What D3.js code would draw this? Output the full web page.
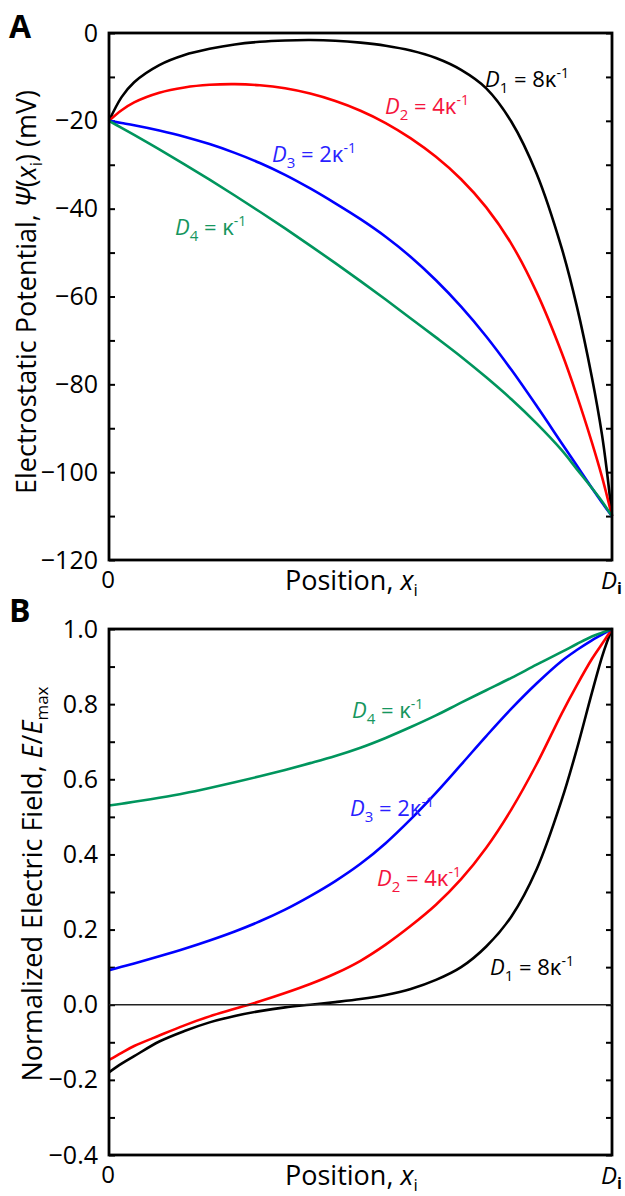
<!DOCTYPE html>
<html>
<head>
<meta charset="utf-8">
<script src="https://cdn.jsdelivr.net/npm/d3@7/dist/d3.min.js"></script>
<style>
body { margin: 0; background: #fff; }
svg text { font-family: "Open Sans", sans-serif; }
</style>
</head>
<body>
<svg width="625" height="1196"></svg>
<script>
// position across the gap, as fraction of D_i
var positions = [0, 0.025, 0.05, 0.1, 0.15, 0.2, 0.25, 0.3, 0.35, 0.4, 0.45, 0.5, 0.55, 0.6, 0.65, 0.7, 0.75, 0.8, 0.85, 0.9, 0.93, 0.96, 0.98, 0.99, 1];

// panel A: potential (mV)
var psiD1 = [-20, -14.6, -11.2, -7.3, -5.0, -3.6, -2.6, -2.0, -1.7, -1.6, -1.75, -2.2, -2.9, -4.0, -5.7, -8.4, -12.6, -20.2, -32.0, -49.0, -62.2, -78.4, -91.4, -99.9, -110];
var psiD2 = [-20, -17.6, -15.8, -13.6, -12.4, -11.8, -11.65, -11.9, -12.6, -13.8, -15.5, -17.7, -20.5, -24.0, -28.2, -33.3, -39.7, -48.0, -59.0, -72.8, -82.5, -93.2, -101.0, -105.4, -110];
var psiD3 = [-20, -20.5, -21.0, -22.2, -23.6, -25.3, -27.3, -29.6, -32.3, -35.4, -38.8, -42.4, -46.4, -51.0, -56.3, -62.3, -69.1, -76.7, -84.9, -93.4, -98.5, -103.6, -106.9, -108.5, -110];
var psiD4 = [-20, -21.6, -23.2, -26.5, -29.9, -33.4, -37.0, -40.7, -44.5, -48.4, -52.4, -56.5, -60.7, -65.0, -69.3, -73.7, -78.4, -83.4, -88.9, -95.0, -99.3, -103.6, -106.6, -108.3, -110];

// panel B: normalized field E/Emax
var fieldD1 = [-0.18, -0.157, -0.137, -0.098, -0.07, -0.047, -0.03, -0.017, -0.007, 0.0, 0.007, 0.015, 0.026, 0.042, 0.066, 0.1, 0.155, 0.235, 0.36, 0.545, 0.68, 0.83, 0.925, 0.965, 1.0];
var fieldD2 = [-0.147, -0.128, -0.11, -0.082, -0.055, -0.031, -0.011, 0.009, 0.031, 0.055, 0.083, 0.117, 0.16, 0.21, 0.266, 0.334, 0.418, 0.52, 0.64, 0.775, 0.85, 0.92, 0.96, 0.98, 1.0];
var fieldD3 = [0.092, 0.101, 0.11, 0.129, 0.149, 0.171, 0.195, 0.222, 0.253, 0.289, 0.329, 0.375, 0.43, 0.494, 0.564, 0.639, 0.715, 0.788, 0.855, 0.915, 0.944, 0.97, 0.985, 0.993, 1.0];
var fieldD4 = [0.53, 0.535, 0.54, 0.551, 0.563, 0.577, 0.592, 0.608, 0.625, 0.643, 0.662, 0.684, 0.71, 0.739, 0.77, 0.804, 0.837, 0.87, 0.905, 0.939, 0.96, 0.98, 0.99, 0.995, 1.0];

var psiTicks = [0, -10, -20, -30, -40, -50, -60, -70, -80, -90, -100, -110, -120];
var fieldTicks = [1.0, 0.9, 0.8, 0.7, 0.6, 0.5, 0.4, 0.3, 0.2, 0.1, 0.0, -0.1, -0.2, -0.3, -0.4];

var colors = ["#000000", "#ff0000", "#0000ff", "#00955d"];
var labelColors = ["#000000", "#f5143c", "#2a1fff", "#16965e"];
var coefs = ["8", "4", "2", ""];

var svg = d3.select("svg");

var x = d3.scaleLinear().domain([0, 1]).range([109, 612]);
var yA = d3.scaleLinear().domain([-120, 0]).range([560, 33]);
var yB = d3.scaleLinear().domain([-0.4, 1.0]).range([1155, 629]);

function drawPanel(y, ticks, fmt, series, top, bottom) {
  var g = svg.append("g");

  // left axis: ticks point inward, every other one labelled
  g.append("g")
    .attr("transform", "translate(109,0)")
    .call(d3.axisLeft(y).tickValues(ticks).tickSizeInner(-6).tickSizeOuter(0).tickPadding(11)
      .tickFormat(function(d, i) { return i % 2 == 0 ? fmt(d) : ""; }))
    .call(function(a) {
      a.select(".domain").remove();
      a.selectAll("line").attr("stroke", "#000").attr("stroke-width", 2);
      a.selectAll("text").style("font-size", "25px").attr("fill", "#000")
        .style("font-family", "'Open Sans', sans-serif");
    });

  // right axis, inward ticks only
  g.append("g")
    .attr("transform", "translate(612,0)")
    .call(d3.axisRight(y).tickValues(ticks).tickSizeInner(-6).tickSizeOuter(0).tickFormat(""))
    .call(function(a) {
      a.select(".domain").remove();
      a.selectAll("line").attr("stroke", "#000").attr("stroke-width", 2);
    });

  var line = d3.line()
    .x(function(d, i) { return x(positions[i]); })
    .y(function(d) { return y(d); })
    .curve(d3.curveCatmullRom.alpha(0.5));

  g.selectAll(".curve")
    .data(series)
    .enter().append("path")
    .attr("class", "curve")
    .attr("fill", "none")
    .attr("stroke", function(d, i) { return colors[i]; })
    .attr("stroke-width", 2.6)
    .attr("d", function(d) { return line(d); });

  // frame
  g.append("rect")
    .attr("x", 109).attr("y", top)
    .attr("width", 612 - 109).attr("height", bottom - top)
    .attr("fill", "none").attr("stroke", "#000").attr("stroke-width", 2.8);

  // x end labels
  g.append("text").attr("x", 108).attr("y", bottom + 28)
    .attr("text-anchor", "middle").style("font-size", "24px").text("0");
  var di = g.append("text").attr("x", 601).attr("y", bottom + 29).style("font-size", "24px");
  di.append("tspan").style("font-style", "italic").text("D");
  di.append("tspan").attr("dy", 5).style("font-size", "16px").style("font-weight", "bold").text("i");

  var pos = g.append("text").attr("x", 285).attr("y", bottom + 30).style("font-size", "27px");
  pos.append("tspan").text("Position, ");
  pos.append("tspan").style("font-style", "italic").text("x");
  pos.append("tspan").attr("dy", 6).style("font-size", "17px").text("i");

  return g;
}

function seriesLabel(g, px, py, i) {
  var t = g.append("text").attr("x", px).attr("y", py)
    .attr("fill", labelColors[i]).style("font-size", "22px");
  t.append("tspan").style("font-style", "italic").text("D");
  t.append("tspan").attr("dy", 6).style("font-size", "15px").text(i + 1);
  t.append("tspan").attr("dy", -6).text(" = " + coefs[i] + "\u03ba");
  t.append("tspan").attr("dy", -9).style("font-size", "14px").text("-1");
}

var gA = drawPanel(yA, psiTicks, d3.format("d"), [psiD1, psiD2, psiD3, psiD4], 33, 560);
var gB = drawPanel(yB, fieldTicks, d3.format(".1f"), [fieldD1, fieldD2, fieldD3, fieldD4], 629, 1155);

// zero line in panel B
gB.append("line")
  .attr("x1", x(0)).attr("x2", x(1))
  .attr("y1", yB(0)).attr("y2", yB(0))
  .attr("stroke", "#222").attr("stroke-width", 1.5);

seriesLabel(gA, 485, 87, 0);
seriesLabel(gA, 385, 114, 1);
seriesLabel(gA, 272, 162, 2);
seriesLabel(gA, 175, 235, 3);

seriesLabel(gB, 490, 975, 0);
seriesLabel(gB, 377, 886, 1);
seriesLabel(gB, 350, 816, 2);
seriesLabel(gB, 352, 718, 3);

// y titles
var tA = svg.append("text").attr("transform", "translate(36,292) rotate(-90)")
  .attr("text-anchor", "middle").style("font-size", "27px");
tA.append("tspan").text("Electrostatic Potential, ");
tA.append("tspan").style("font-style", "italic").text("\u03a8");
tA.append("tspan").text("(");
tA.append("tspan").style("font-style", "italic").text("x");
tA.append("tspan").attr("dy", 6).style("font-size", "17px").text("i");
tA.append("tspan").attr("dy", -6).text(") (mV)");

var tB = svg.append("text").attr("transform", "translate(42,884) rotate(-90)")
  .attr("text-anchor", "middle").style("font-size", "27px");
tB.append("tspan").text("Normalized Electric Field, ");
tB.append("tspan").style("font-style", "italic").text("E");
tB.append("tspan").text("/");
tB.append("tspan").style("font-style", "italic").text("E");
tB.append("tspan").attr("dy", 6).style("font-size", "17px").text("max");

// panel letters
svg.append("text").attr("x", 9).attr("y", 38).style("font-size", "32px").style("font-weight", "bold").text("A");
svg.append("text").attr("x", 9).attr("y", 622).style("font-size", "32px").style("font-weight", "bold").text("B");
</script>
</body>
</html>
